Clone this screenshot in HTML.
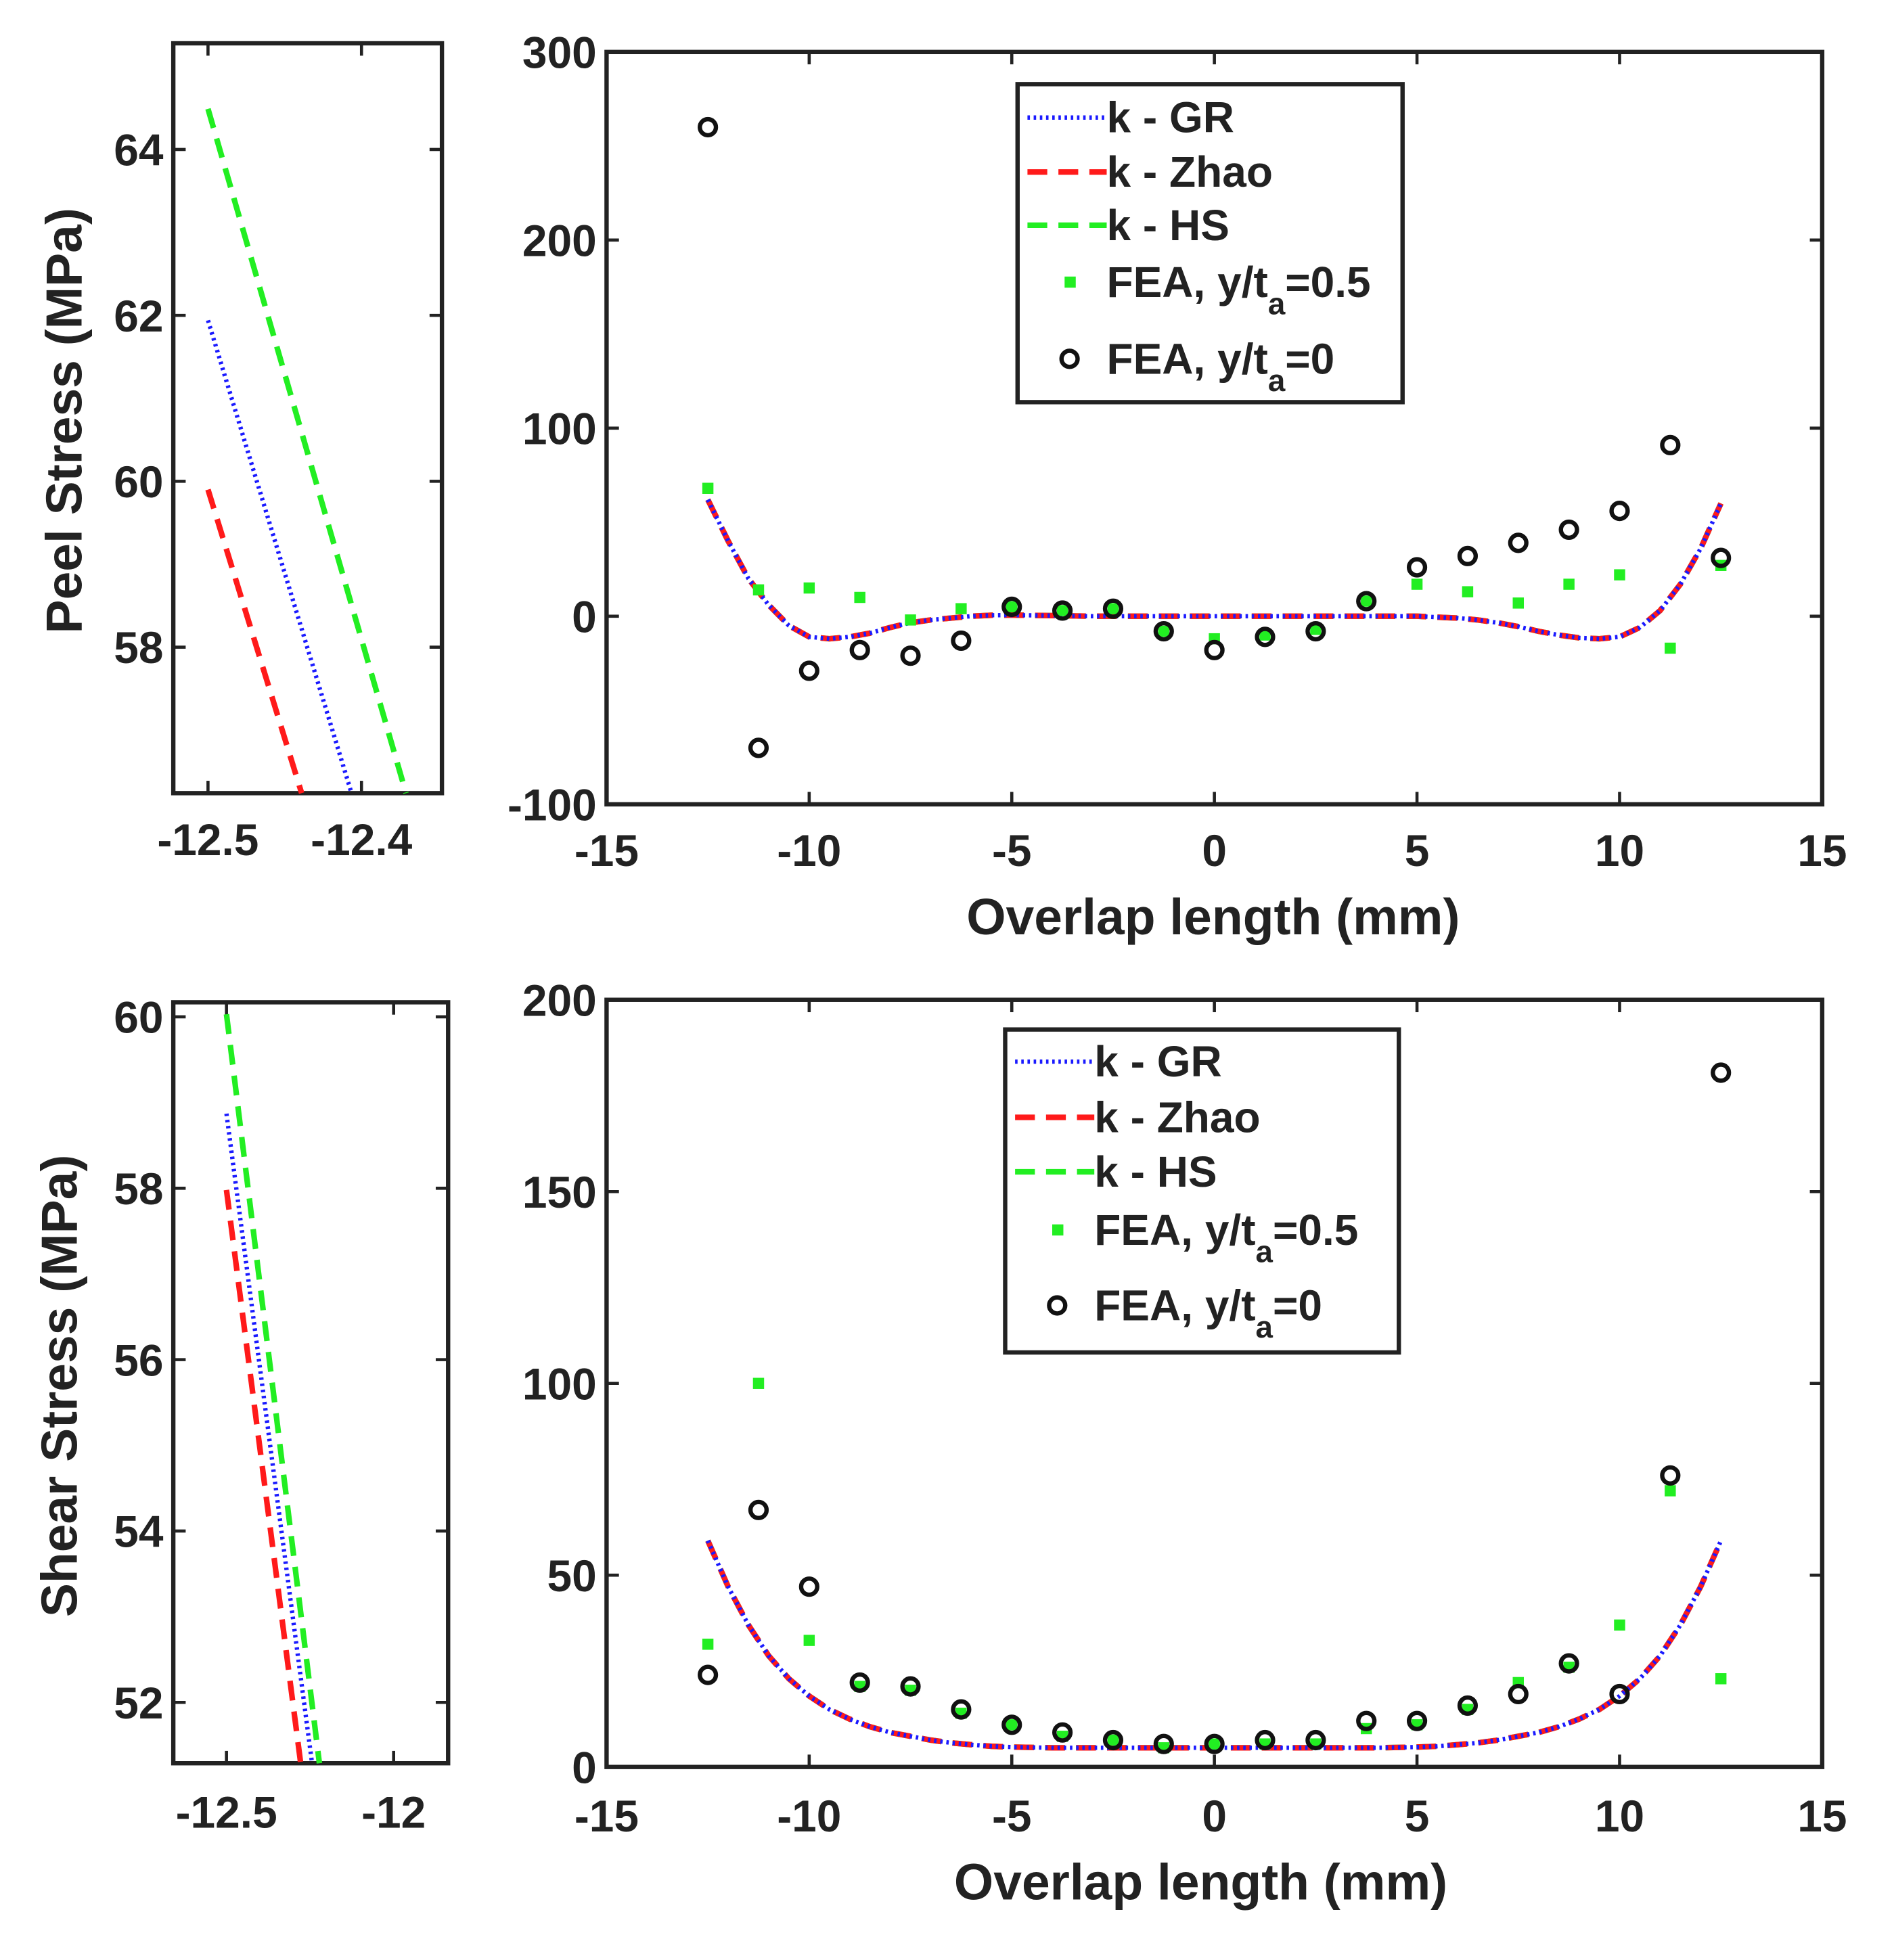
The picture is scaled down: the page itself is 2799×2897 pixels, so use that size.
<!DOCTYPE html>
<html><head><meta charset="utf-8"><style>
html,body{margin:0;padding:0;background:#fff}
svg{display:block}
text{font-family:"Liberation Sans",Arial,sans-serif;font-weight:bold;fill:#222}
</style></head><body>
<svg id="fig" width="2799" height="2897" viewBox="0 0 1530 1584" preserveAspectRatio="none" xmlns="http://www.w3.org/2000/svg"></svg>
<script>
// ---------- data ----------
const feaX = [-12.5,-11.25,-10,-8.75,-7.5,-6.25,-5,-3.75,-2.5,-1.25,0,1.25,2.5,3.75,5,6.25,7.5,8.75,10,11.25,12.5];
const peelCircles = [260,-70,-29,-18,-21,-13,5,3,4,-8,-18,-11,-8,8,26,32,39,46,56,91,31];
const peelSquares = [68,14,15,10,-2,4,5,3,4,-8,-12,-10,-7,8,17,13,7,17,22,-17,27];
const shearCircles = [24,67,47,22,21,15,11,9,7,6,6,7,7,12,12,16,19,27,19,76,181];
const shearSquares = [32,100,33,21,20,14,11,8,7,5,6,6,6,10,11,15,22,26,37,72,23];
const curveX = [-12.5,-12,-11.5,-11,-10.5,-10,-9.5,-9,-8.5,-8,-7.5,-7,-6.5,-6,-5.5,-5,-4,-3,-2,-1,0,1,2,3,4,5,5.5,6,6.5,7,7.5,8,8.5,9,9.5,10,10.5,11,11.5,12,12.5];
const peelCurve = [62,40,20,6,-5,-11,-12,-11,-9,-6,-3.5,-2,-1,0,0.5,0.6,0.3,0,0,0,0,0,0,0,0,0,-0.5,-1,-2,-3.5,-5.5,-8,-10,-11.5,-12,-11,-6,3,17,36,60];
const shearCurve = [59,47,37,29,23,18.5,15,12.5,10.5,9,8,7,6.3,5.8,5.4,5.2,5,5,5,5,5,5,5,5,5,5.2,5.4,5.8,6.3,7,8,9,10.5,12.5,15,18.5,23,29,37,47,59];
const mainXTicks = [-15,-10,-5,0,5,10,15];
const peelYTicks = [-100,0,100,200,300];
const shearYTicks = [0,50,100,150,200];
const peelInsetXTicks = [-12.5,-12.4];
const peelInsetYTicks = [58,60,62,64];
const shearInsetXTicks = [-12.5,-12];
const shearInsetYTicks = [52,54,56,58,60];
const peelInsetGR = [-12.5,61.94,-12.4065,56.24];
const peelInsetZhao = [-12.5,59.9,-12.439,56.24];
const peelInsetHS = [-12.5,64.49,-12.371,56.24];
const shearInsetGR = [-12.5,58.87,-12.244,51.29];
const shearInsetZhao = [-12.5,57.98,-12.278,51.29];
const shearInsetHS = [-12.5,60.03,-12.222,51.29];
const legendLabels = ["k - GR","k - Zhao","k - HS","FEA, y/t","FEA, y/t"];

const NS="http://www.w3.org/2000/svg";
const svg=document.getElementById('fig');
function mk(tag,attrs,parent){const e=document.createElementNS(NS,tag);for(const k in attrs)e.setAttribute(k,attrs[k]);(parent||svg).appendChild(e);return e;}
const STY={
 GR:{stroke:'#1a1aff','stroke-width':3.5,'stroke-dasharray':'2 3'},
 Zhao:{stroke:'#ff1a1a','stroke-width':4.5,'stroke-dasharray':'16 9'},
 HS:{stroke:'#22ee22','stroke-width':4.5,'stroke-dasharray':'16 9'}
};
function axes(name,L,R,T,B,xmin,xmax,ymin,ymax,xt,yt,fs,xdy){
 const g=mk('g',{});
 
 
 const sx=v=>L+(v-xmin)/(xmax-xmin)*(R-L);
 const sy=v=>B-(v-ymin)/(ymax-ymin)*(B-T);
 xt.forEach(v=>{const x=sx(v);
  const t1=mk('line',{x1:x,x2:x,y1:B,y2:B-10,stroke:'#222','stroke-width':2.5},g);
  
  
  mk('line',{x1:x,x2:x,y1:T,y2:T+10,stroke:'#222','stroke-width':2.5},g);
  const tx=mk('text',{x:x,y:B+xdy,'text-anchor':'middle','font-size':fs},g);tx.textContent=String(v);
  
  
 });
 yt.forEach(v=>{const y=sy(v);
  mk('line',{x1:L,x2:L+10,y1:y,y2:y,stroke:'#222','stroke-width':2.5},g);
  mk('line',{x1:R,x2:R-10,y1:y,y2:y,stroke:'#222','stroke-width':2.5},g);
  const tx=mk('text',{x:L-8,y:y+fs*0.36,'text-anchor':'end','font-size':fs},g);tx.textContent=String(v);
  
  
 });
 const f=mk('rect',{x:L,y:T,width:R-L,height:B-T,fill:'none',stroke:'#222','stroke-width':3.5},g);
 
 
 return {sx,sy,g};
}
function curve(ax,xs,ys,sty,dx,name){
 const d=xs.map((x,i)=>(i?'L':'M')+ax.sx(x).toFixed(1)+' '+(ax.sy(ys[i])+dx).toFixed(1)).join(' ');
 const p=mk('path',Object.assign({d:d,fill:'none'},sty),ax.g);
 
 
}
function seg(ax,s,sty,name){
 const l=mk('line',Object.assign({x1:ax.sx(s[0]),y1:ax.sy(s[1]),x2:ax.sx(s[2]),y2:ax.sy(s[3])},sty),ax.g);
 
 
}
function points(ax,ys,name){
 ys.forEach((v,i)=>{
  const r=mk('rect',{x:ax.sx(feaX[i])-4.5,y:ax.sy(v)-4.5,width:9,height:9,fill:'#22ee22'},ax.g);
  
  
 });
}
function circles(ax,ys,name){
 ys.forEach((v,i)=>{
  const c=mk('circle',{cx:ax.sx(feaX[i]),cy:ax.sy(v),r:6.5,fill:'none',stroke:'#111','stroke-width':3.5},ax.g);
  
  
 });
}
function legend(x,y,w,h,rows,name){
 const g=mk('g',{});
 
 
 mk('rect',{x:x,y:y,width:w,height:h,fill:'#fff',stroke:'#222','stroke-width':3.5},g);
 const keys=['GR','Zhao','HS'];
 rows.forEach((ry,i)=>{
  const e=mk('g',{},g);
  
  
  const lx=x+8, tx=x+72;
  if(i<3){mk('line',Object.assign({x1:lx,x2:lx+64,y1:ry,y2:ry},STY[keys[i]]),e);}
  else if(i===3){mk('rect',{x:lx+30,y:ry-4.5,width:9,height:9,fill:'#22ee22'},e);}
  else {mk('circle',{cx:lx+34,cy:ry,r:6.5,fill:'none',stroke:'#111','stroke-width':3.5},e);}
  const t=mk('text',{x:tx,y:ry+12,'font-size':35},e);
  t.textContent=legendLabels[i];
  if(i>=3){const s=mk('tspan',{dy:14,'font-size':25},t);s.textContent='a';
   const s2=mk('tspan',{dy:-14,'font-size':35},t);s2.textContent=i===3?'=0.5':'=0';}
 });
}
// ---------- top row ----------
const pi=axes('peel-inset-axes',140,357,35,641,-12.5226,-12.3476,56.24,65.28,peelInsetXTicks,peelInsetYTicks,36,50);
seg(pi,peelInsetHS,STY.HS,'inset-hs-line');
seg(pi,peelInsetGR,STY.GR,'inset-gr-line');
seg(pi,peelInsetZhao,STY.Zhao,'inset-zhao-line');
const pm=axes('peel-main-axes',490,1472,42,650,-15,15,-100,300,mainXTicks,peelYTicks,36,50);
curve(pm,curveX,peelCurve,STY.HS,0,'peel-hs-line');
curve(pm,curveX,peelCurve,STY.Zhao,0,'peel-zhao-line');
curve(pm,curveX,peelCurve,STY.GR,0,'peel-gr-line');
points(pm,peelSquares,'peel-fea-05');
circles(pm,peelCircles,'peel-fea-0');
legend(822,68,311,257,[95,139,182,228,290],'peel-legend');
let t=mk('text',{transform:'translate(66,340) rotate(-90)','text-anchor':'middle','font-size':41});t.textContent='Peel Stress (MPa)';


t=mk('text',{x:980,y:755,'text-anchor':'middle','font-size':41});t.textContent='Overlap length (mm)';


// ---------- bottom row ----------
const si=axes('shear-inset-axes',140,362,810,1425,-12.659,-11.837,51.29,60.17,shearInsetXTicks,shearInsetYTicks,36,52);
seg(si,shearInsetHS,STY.HS,'inset-hs-line');
seg(si,shearInsetGR,STY.GR,'inset-gr-line');
seg(si,shearInsetZhao,STY.Zhao,'inset-zhao-line');
const sm=axes('shear-main-axes',490,1472,808,1428,-15,15,0,200,mainXTicks,shearYTicks,36,52);
curve(sm,curveX,shearCurve,STY.HS,0,'shear-hs-line');
curve(sm,curveX,shearCurve,STY.Zhao,0,'shear-zhao-line');
curve(sm,curveX,shearCurve,STY.GR,0,'shear-gr-line');
points(sm,shearSquares,'shear-fea-05');
circles(sm,shearCircles,'shear-fea-0');
legend(812,832,318,261,[858,903,947,994,1055],'shear-legend');
t=mk('text',{transform:'translate(62,1120) rotate(-90)','text-anchor':'middle','font-size':41});t.textContent='Shear Stress (MPa)';


t=mk('text',{x:970,y:1535,'text-anchor':'middle','font-size':41});t.textContent='Overlap length (mm)';


</script>
</body></html>
